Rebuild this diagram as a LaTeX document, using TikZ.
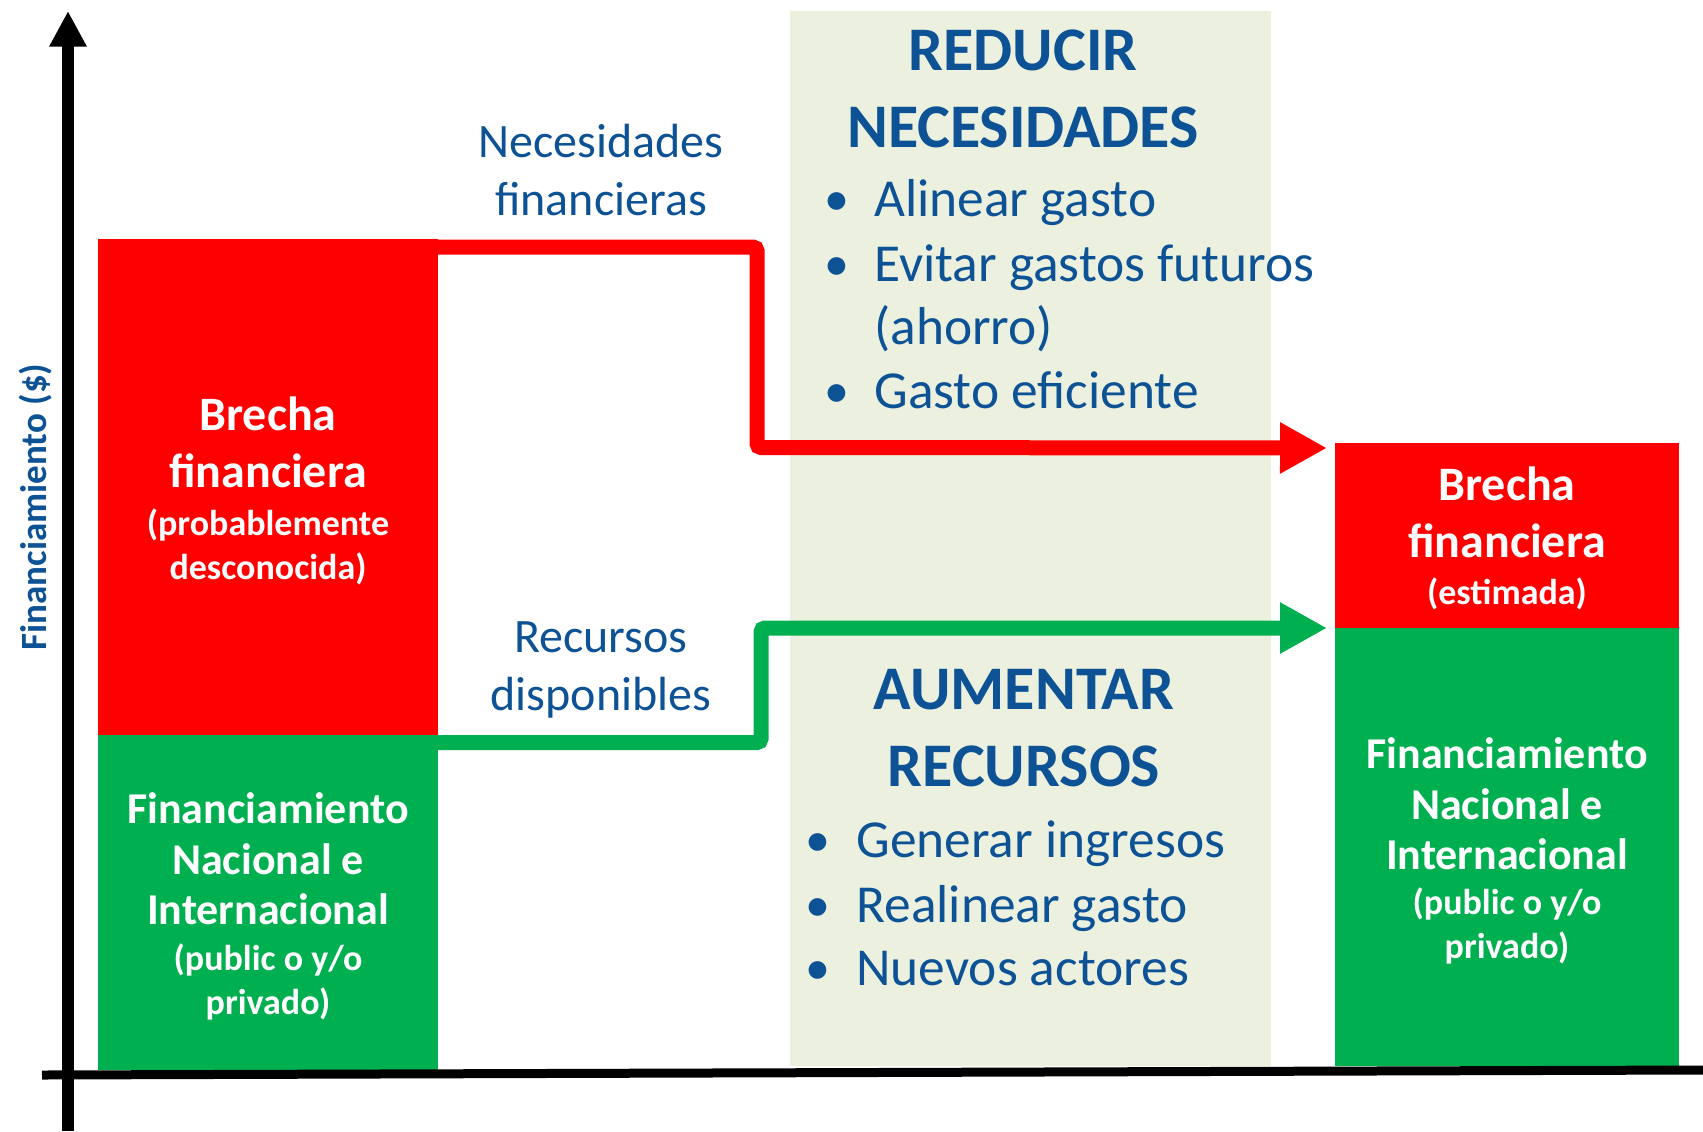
\documentclass[tikz,border=0pt]{standalone}
\usepackage{fontspec}
\setmainfont{Carlito}
\usetikzlibrary{arrows.meta}
\definecolor{rd}{HTML}{FF0000}
\definecolor{gr}{HTML}{00B050}
\definecolor{bl}{HTML}{0E5296}
\definecolor{bg}{HTML}{EBF1DE}
\begin{document}
\begin{tikzpicture}[x=0.5pt,y=-0.5pt,
  box/.style={anchor=north west, inner sep=0pt, outer sep=0pt, draw=none},
  wbig/.style={text=white, align=center, inner sep=0pt, font=\fontsize{24}{28.5}\selectfont\bfseries},
  wmid/.style={text=white, align=center, inner sep=0pt, font=\fontsize{22}{25.25}\selectfont\bfseries},
  wsmall/.style={text=white, align=center, inner sep=0pt, font=\fontsize{18}{22}\selectfont\bfseries},
  btxt/.style={text=bl, align=center, inner sep=0pt, font=\fontsize{24}{28.75}\selectfont},
  htxt/.style={text=bl, align=center, inner sep=0pt, font=\fontsize{31}{38.5}\selectfont\bfseries},
  itm/.style={text=bl, anchor=west, inner sep=0pt, text height=17.2pt, text depth=0pt, font=\fontsize{26.7}{32}\selectfont},
  bul/.style={text=bl, anchor=center, inner sep=0pt, text height=16pt, text depth=0pt, font=\fontsize{25}{32}\selectfont},
  conn/.style={line width=7.5pt, rounded corners=2pt, -{Triangle[length=23.5pt,width=24pt]}},
  axis/.style={line width=6pt, draw=black}
]
\useasboundingbox[fill=white] (0,0) rectangle (1703,1131);

% panel and boxes
\node[box, fill=bg, minimum width=240.5pt, minimum height=527.5pt] (panel) at (790,11) {};
\node[box, fill=rd, minimum width=170pt, minimum height=248pt] (lred) at (98,239) {};
\node[box, fill=gr, minimum width=170pt, minimum height=167.5pt] (lgreen) at (98,735) {};
\node[box, fill=rd, minimum width=172pt, minimum height=92.5pt] (rred) at (1335,443) {};
\node[box, fill=gr, minimum width=172pt, minimum height=219pt] (rgreen) at (1335,628) {};

% box texts
\node[wbig] (lredt) at (268,442) {Brecha\\financiera};
\node[wsmall] (lreds) at (268,547) {(probablemente\\desconocida)};
\node[wmid] (lgrt) at (268,859) {Financiamiento\\Nacional e\\Internacional};
\node[wsmall] (lgrs) at (268,982) {(public o y/o\\privado)};
\node[wbig] (rredt) at (1507,512) {Brecha\\financiera};
\node[wsmall] (rreds) at (1507,594) {(estimada)};
\node[wmid] (rgrt) at (1507,804) {Financiamiento\\Nacional e\\Internacional};
\node[wsmall] (rgrs) at (1507,926) {(public o y/o\\privado)};

% connectors
\coordinate (r1) at (757,247);
\coordinate (r2) at (757,447.5);
\draw[conn, draw=rd] ([xshift=-2pt,yshift=-4pt]lred.north east) -- (r1) -- (r2) -- ([xshift=-4pt,yshift=-2.5pt]rred.north west);
\coordinate (g1) at (761,742.5);
\coordinate (g2) at (761,628);
\draw[conn, draw=gr] ([xshift=-2pt,yshift=-3.75pt]lgreen.north east) -- (g1) -- (g2) -- ([xshift=-4pt]rgreen.north west);

% blue labels
\node[btxt] (necfin) at (601,170) {Necesidades\\financieras};
\node[btxt] (recdis) at (601,670) {Recursos\\disponibles};
\node[htxt] (redhd) at (1023,89) {REDUCIR\\NECESIDADES};
\node[htxt] (aumhd) at (1024,728.5) {AUMENTAR\\RECURSOS};

\node[bul] (rb1) at (837,199) {•};
\node[itm] (ri1) at (874,199) {Alinear gasto};
\node[bul] (rb2) at (837,264) {•};
\node[itm] (ri2) at (874,264) {Evitar gastos futuros};
\node[itm] (ri3) at (874,327.5) {(ahorro)};
\node[bul] (rb4) at (837,391.5) {•};
\node[itm] (ri4) at (874,391.5) {Gasto eficiente};

\node[bul] (ab1) at (818,840.5) {•};
\node[itm] (ai1) at (856,840.5) {Generar ingresos};
\node[bul] (ab2) at (818,905) {•};
\node[itm] (ai2) at (856,905) {Realinear gasto};
\node[bul] (ab3) at (818,968) {•};
\node[itm] (ai3) at (856,968) {Nuevos actores};

% axes
\coordinate (ybot) at (68,1131);
\coordinate (ytop) at (68,11);
\coordinate (xl) at (42,1075);
\coordinate (xr) at (1703,1070);
\draw[axis, line width=4.5pt] (xl) -- (xr);
\draw[axis, -{Triangle[length=17.75pt,width=17.5pt]}] (ybot) -- (ytop);

\node[text=bl, rotate=90, inner sep=0pt, font=\fontsize{18.5}{22}\selectfont\bfseries] (ylab) at (36,507) {Financiamiento (\$)};
\end{tikzpicture}
\end{document}
